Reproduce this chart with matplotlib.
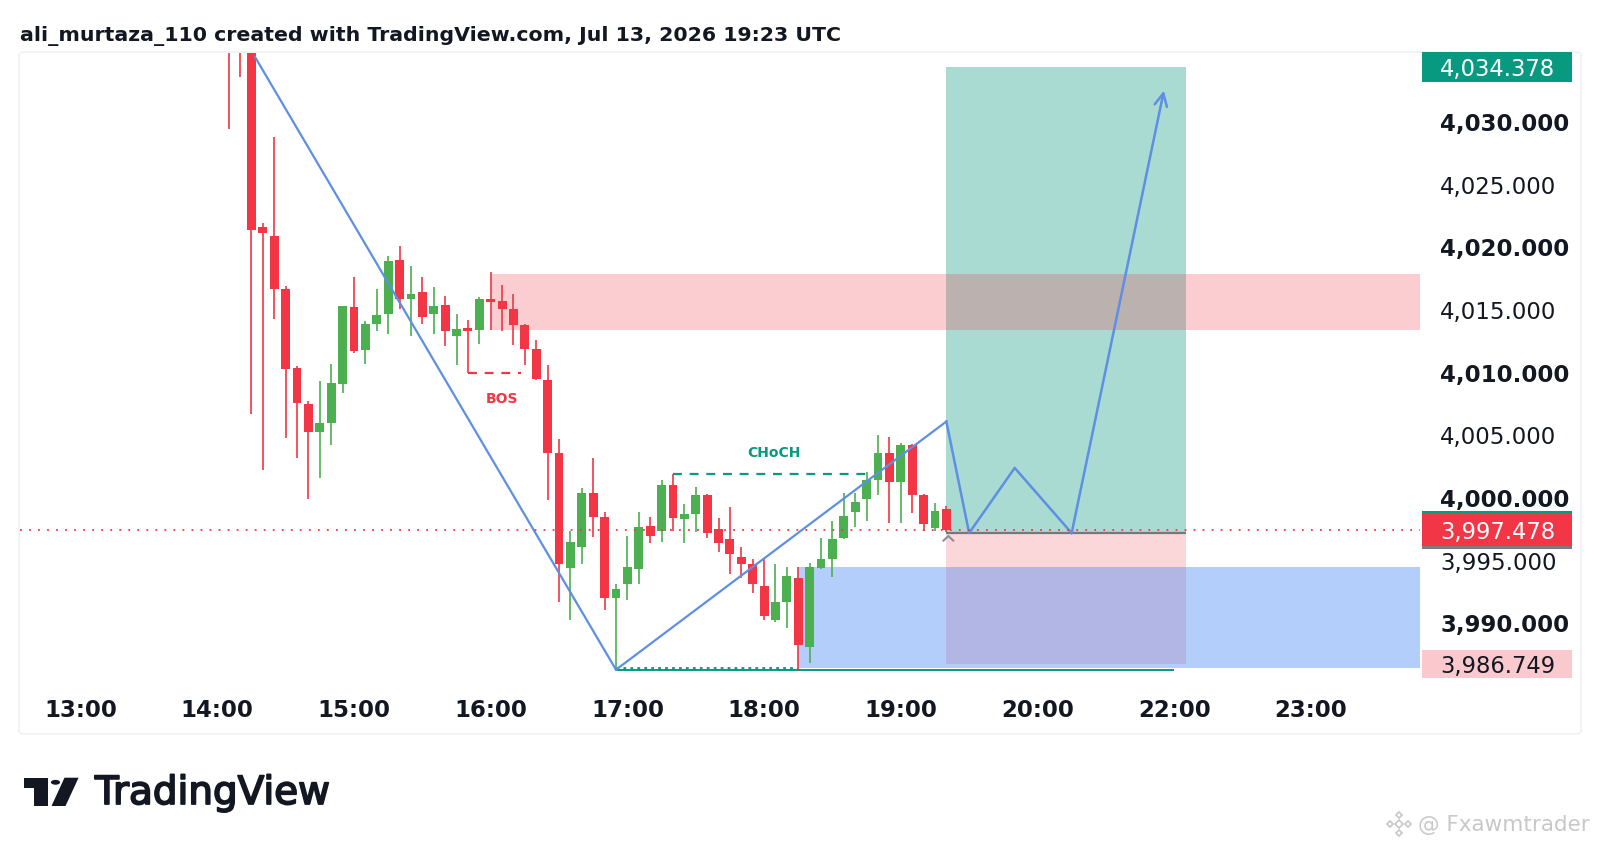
"""
TradingView style 5-minute chart with BOS / CHoCH markup and a long
position projection. Saves out.png (1600x851).
"""
import matplotlib

matplotlib.use("Agg")
import matplotlib.pyplot as plt
import matplotlib.patheffects as pe
from matplotlib.patches import Rectangle, Polygon, Circle, FancyBboxPatch


W, H = 1600, 851
GREEN = "#4caf50"
RED = "#f23645"
TEAL = "#089981"
BLUE_LINE = "#5e8fe3"
TEXT = "#131722"

# 5-minute candles, index = number of 5-min steps after 14:00 (14:05 .. 19:20)
candle_idx = list(range(1, 65))
opens = [
    4041.0, 4039.0, 4037.0, 4021.6, 4020.9, 4016.7, 4010.4, 4007.5,
    4005.3, 4006.0, 4009.1, 4015.2, 4011.8, 4013.9, 4014.7, 4019.0,
    4015.9, 4016.4, 4014.7, 4015.4, 4012.9, 4013.6, 4013.4, 4015.9,
    4015.7, 4015.1, 4013.8, 4011.9, 4009.4, 4003.6, 3994.4, 3996.1,
    4000.4, 3998.5, 3992.0, 3993.1, 3994.3, 3997.8, 3997.4, 4001.0,
    3998.3, 3998.7, 4000.2, 3997.5, 3996.7, 3995.3, 3994.7, 3993.0,
    3990.3, 3991.7, 3993.6, 3988.1, 3994.4, 3995.1, 3996.8, 3998.9,
    3999.9, 4001.4, 4003.6, 4001.3, 4004.2, 4000.2, 3997.6, 3999.1,
]
highs = [
    4043.0, 4040.0, 4037.5, 4021.9, 4028.8, 4016.9, 4010.5, 4007.7,
    4009.3, 4010.7, 4015.3, 4017.6, 4014.1, 4016.7, 4019.3, 4020.1,
    4018.5, 4017.6, 4016.8, 4016.1, 4014.7, 4014.2, 4016.0, 4018.0,
    4017.0, 4016.3, 4013.9, 4012.6, 4010.6, 4004.7, 3997.4, 4000.8,
    4003.2, 3998.9, 3993.1, 3997.0, 3998.9, 3998.5, 4001.4, 4001.9,
    3999.5, 4000.9, 4000.3, 3998.4, 3999.3, 3996.1, 3995.1, 3995.1,
    3994.7, 3994.5, 3994.5, 3994.8, 3996.8, 3998.2, 4000.4, 4000.4,
    4002.1, 4005.0, 4004.9, 4004.4, 4004.3, 4000.3, 3999.6, 3999.4,
]
lows = [
    4029.4, 4033.6, 4006.7, 4002.2, 4014.3, 4004.8, 4003.2, 3999.9,
    4001.6, 4004.2, 4008.4, 4011.6, 4010.7, 4013.3, 4013.1, 4015.1,
    4012.9, 4013.9, 4013.1, 4012.1, 4010.6, 4010.0, 4012.3, 4013.4,
    4013.3, 4012.2, 4010.6, 4009.4, 3999.8, 3991.7, 3990.3, 3994.7,
    3996.9, 3991.1, 3986.3, 3991.9, 3993.1, 3996.4, 3996.5, 3997.4,
    3996.4, 3997.3, 3996.8, 3995.7, 3993.9, 3993.6, 3992.4, 3990.3,
    3990.1, 3989.6, 3986.3, 3986.8, 3994.3, 3993.7, 3996.7, 3997.7,
    3998.2, 4000.2, 3998.0, 3998.0, 3998.8, 3997.4, 3997.4, 3997.3,
]
closes = [
    4037.5, 4036.5, 4021.4, 4021.1, 4016.7, 4010.3, 4007.6, 4005.3,
    4006.0, 4009.2, 4015.3, 4011.7, 4013.9, 4014.6, 4018.9, 4015.9,
    4016.3, 4014.4, 4015.3, 4013.3, 4013.5, 4013.3, 4015.9, 4015.6,
    4015.1, 4013.8, 4011.9, 4009.5, 4003.6, 3994.7, 3996.5, 4000.4,
    3998.5, 3992.0, 3992.7, 3994.5, 3997.7, 3997.0, 4001.0, 3998.4,
    3998.7, 4000.2, 3997.2, 3996.4, 3995.5, 3994.7, 3993.1, 3990.6,
    3991.7, 3993.8, 3988.3, 3994.5, 3995.1, 3996.7, 3998.6, 3999.7,
    4001.4, 4003.6, 4001.3, 4004.2, 4000.2, 3997.9, 3999.0, 3997.478,
]

hour_ticks = [-12, 0, 12, 24, 36, 48, 60, 72, 84, 96]
hour_labels = ["13:00", "14:00", "15:00", "16:00", "17:00",
               "18:00", "19:00", "20:00", "22:00", "23:00"]
price_ticks = [3990, 3995, 4000, 4005, 4010, 4015, 4020, 4025, 4030]

# drawings
down_x = [3.3, 35]
down_y = [4035.2, 3986.3]
up_x = [35, 64]
up_y = [3986.3, 4006.1]
path_x = [64, 66, 70, 75, 83.1]
path_y = [4006.1, 3997.2, 4002.4, 3997.2, 4032.5]
supply_x, supply_lo, supply_hi = 24, 4013.4, 4017.9
demand_x, demand_lo, demand_hi = 51, 3986.4, 3994.5
bos_level, bos_x0, bos_x1 = 4010.0, 22, 26.7
bos_text_x, bos_text_y = 25, 4007.9
choch_level, choch_x0, choch_x1 = 4001.9, 40, 57.6
choch_text_x, choch_text_y = 48.9, 4003.55
liq_level, liq_x0, liq_x1, liq_x2 = 3986.3, 35, 51, 84
pos_x0, pos_x1 = 64, 85
entry, take_profit, stop = 3997.2, 4034.378, 3986.749
last_price = 3997.478

XLIM = (-17.32, 105.58)
YLIM = (3985.0, 4035.5)


def px(x, y):
    """pixel (from top-left) -> figure fraction"""
    return x / W, 1 - y / H


def draw_candles(ax):
    colors = [GREEN if c >= o else RED for o, c in zip(opens, closes)]
    ax.vlines(candle_idx, lows, highs, colors=colors, lw=1.2, zorder=5)
    bottoms = [min(o, c) for o, c in zip(opens, closes)]
    heights = [max(abs(c - o), 0.15) for o, c in zip(opens, closes)]
    ax.bar(candle_idx, heights, width=0.78, bottom=bottoms, color=colors,
           linewidth=0, zorder=6)


def draw_zones(ax):
    right = XLIM[1]
    ax.add_patch(Rectangle((pos_x0, entry), pos_x1 - pos_x0, take_profit - entry,
                           facecolor="#a9dbd3", lw=0, zorder=1))
    ax.add_patch(Rectangle((pos_x0, stop), pos_x1 - pos_x0, entry - stop,
                           facecolor="#fcd7da", lw=0, zorder=1))
    ax.add_patch(Rectangle((demand_x, demand_lo), right - demand_x, demand_hi - demand_lo,
                           facecolor="#4285f4", alpha=0.4, lw=0, zorder=2))
    ax.add_patch(Rectangle((supply_x, supply_lo), right - supply_x, supply_hi - supply_lo,
                           facecolor=RED, alpha=0.25, lw=0, zorder=2))
    ax.hlines(entry, pos_x0, pos_x1, color="#6f7d7a", lw=1.6, zorder=3)


def draw_markup(ax):
    ax.plot(down_x, down_y, color=BLUE_LINE, lw=1.6, zorder=7)
    ax.plot(up_x, up_y, color=BLUE_LINE, lw=1.6, zorder=7)
    ax.plot(path_x[:-1], path_y[:-1], color=BLUE_LINE, lw=1.8, zorder=7)
    ax.annotate("", xy=(path_x[-1], path_y[-1]), xytext=(path_x[-2], path_y[-2]),
                arrowprops=dict(arrowstyle="->,head_length=0.9,head_width=0.45",
                                color=BLUE_LINE, lw=1.8, shrinkA=0, shrinkB=0),
                zorder=7)

    ax.hlines(bos_level, bos_x0, bos_x1, color=RED, lw=1.6,
              linestyles=(0, (4, 3.5)), zorder=7)
    ax.text(bos_text_x, bos_text_y, "BOS", color=RED, fontsize=10,
            fontweight="bold", ha="center", va="center", zorder=8)
    ax.hlines(choch_level, choch_x0, choch_x1, color=TEAL, lw=1.6,
              linestyles=(0, (4, 3.5)), zorder=7)
    ax.text(choch_text_x, choch_text_y, "CHoCH", color=TEAL, fontsize=10,
            fontweight="bold", ha="center", va="center", zorder=8)

    ax.hlines(liq_level, liq_x0, liq_x2, color=TEAL, lw=1.4, zorder=4)
    ax.hlines(liq_level + 0.12, liq_x0, liq_x1, color=TEAL, lw=2.0,
              linestyles=(0, (1, 1.5)), zorder=4)

    ax.axhline(last_price, color=RED, lw=1.3, ls=(0, (1, 4)), zorder=8)
    # position tool handles
    ax.plot([63.75, 64.1], [3996.6, 3996.9], color="#8a8f99", lw=1.5, zorder=8)
    ax.plot([64.2, 64.6], [3996.95, 3996.6], color="#8a8f99", lw=1.5, zorder=8)


def price_box(ax, price, height, face, text_color, strip=False):
    tr = ax.get_yaxis_transform()
    x0, width = 1.0014, 0.1071
    ax.add_patch(Rectangle((x0, price - height / 2), width, height, transform=tr,
                           facecolor=face, lw=0, clip_on=False, zorder=10))
    if strip:
        ax.add_patch(Rectangle((x0, price + height / 2), width, 0.2, transform=tr,
                               facecolor=TEAL, lw=0, clip_on=False, zorder=10))
        ax.add_patch(Rectangle((x0, price - height / 2 - 0.2), width, 0.2, transform=tr,
                               facecolor="#787b86", lw=0, clip_on=False, zorder=10))
    ax.text(1.0143, price, f"{price:,.3f}", transform=tr, color=text_color,
            fontsize=16.3, ha="left", va="center_baseline", clip_on=False, zorder=11)


def draw_axes_labels(ax):
    ax.set_xlim(*XLIM)
    ax.set_ylim(*YLIM)
    ax.yaxis.tick_right()
    ax.set_yticks(price_ticks, labels=[f"{v:,.3f}" for v in price_ticks])
    for v, lab in zip(price_ticks, ax.get_yticklabels()):
        lab.set_fontweight("bold" if v % 10 == 0 else "normal")
    ax.set_xticks(hour_ticks, labels=hour_labels)
    for lab in ax.get_xticklabels():
        lab.set_fontweight("bold")
    ax.tick_params(axis="y", length=0, pad=14.4, labelsize=16.5, labelcolor=TEXT)
    ax.tick_params(axis="x", length=0, pad=9.5, labelsize=16.5, labelcolor=TEXT)
    for sp in ax.spines.values():
        sp.set_visible(False)

    price_box(ax, take_profit, 2.4, TEAL, "white")
    price_box(ax, last_price, 2.63, RED, "white", strip=True)
    price_box(ax, stop, 2.3, "#f9c9cd", TEXT)


def draw_decor(fig):
    x0, y0 = px(19, 734)
    x1, y1 = px(1581, 52)
    fig.add_artist(FancyBboxPatch((x0, y0), x1 - x0, y1 - y0,
                                  boxstyle="round,pad=0,rounding_size=0.004",
                                  transform=fig.transFigure, facecolor="none",
                                  edgecolor="#eceef2", lw=1.0, zorder=0))
    fig.text(*px(20, 36.5), "ali_murtaza_110 created with TradingView.com, Jul 13, 2026 19:23 UTC",
             fontsize=14.75, fontweight="bold", color=TEXT, ha="left", va="center")

    # TradingView logo
    logo = "#131722"
    fig.add_artist(Polygon([px(23.7, 777.7), px(47.8, 777.7), px(47.8, 806), px(33.7, 806),
                            px(33.7, 788.3), px(23.7, 788.3)], closed=True,
                           transform=fig.transFigure, facecolor=logo, lw=0))
    fig.add_artist(Circle(px(55.5, 782.3), 4.6 / W, transform=fig.transFigure,
                          facecolor=logo, lw=0))
    fig.add_artist(Polygon([px(64.5, 777.7), px(78.6, 777.7), px(65.5, 806), px(51.5, 806)],
                           closed=True, transform=fig.transFigure, facecolor=logo, lw=0))
    fig.text(*px(95, 793), "TradingView", fontsize=28, color=logo,
             ha="left", va="center",
             path_effects=[pe.withStroke(linewidth=1.3, foreground=logo)])

    # watermark
    wm = "#c8c8c8"
    for dx, dy, r in [(0, 0, 4.0), (-9, 0, 3.0), (9, 0, 3.0), (0, -9, 3.0), (0, 9, 3.0)]:
        cx, cy = 1399 + dx, 824 + dy
        fig.add_artist(Polygon([px(cx, cy - r), px(cx + r, cy), px(cx, cy + r), px(cx - r, cy)],
                               closed=True, transform=fig.transFigure,
                               facecolor="none", edgecolor=wm, lw=1.2))
    fig.text(*px(1418, 825), "@ Fxawmtrader", fontsize=15.5, color=wm,
             ha="left", va="center")


def main():
    fig = plt.figure(figsize=(W / 100, H / 100), dpi=100, facecolor="white")
    l, b = px(20, 686)
    ax = fig.add_axes([l, b, 1400 / W, (686 - 53) / H])
    ax.set_facecolor("white")

    draw_zones(ax)
    draw_candles(ax)
    draw_markup(ax)
    draw_axes_labels(ax)
    draw_decor(fig)

    fig.savefig("out.png", dpi=100, facecolor="white")
    plt.close(fig)


if __name__ == "__main__":
    main()
